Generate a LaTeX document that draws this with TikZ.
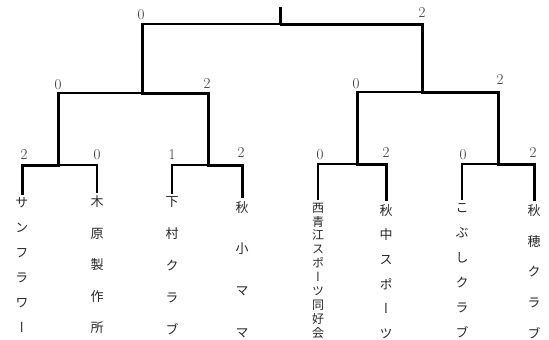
\documentclass[tikz,border=0pt]{standalone}
\usepackage{fontspec}
\newfontfamily\cjkv[RawFeature={+vert}]{Noto Sans CJK JP}
\begin{document}
\begin{tikzpicture}[x=1pt,y=-1pt,
  win/.style={line width=3pt, line join=miter, shorten <=3pt},
  lose/.style={line width=1.4pt, line join=miter, shorten <=3pt},
  stemline/.style={line width=3pt},
  team/.style={inner sep=0pt, align=center, text=black!85},
  score/.style={inner sep=0pt, text=black!80, font=\fontsize{15}{17}\selectfont}]
\useasboundingbox[fill=white] (0,0) rectangle (549,340);
% teams
\node[team, font=\cjkv\fontsize{13}{25}\selectfont] (t1) at (22,265.5) {サ\\ン\\フ\\ラ\\ワ\\ー};
\node[team, font=\cjkv\fontsize{13}{31.5}\selectfont] (t2) at (97,265) {木\\原\\製\\作\\所};
\node[team, font=\cjkv\fontsize{13}{32}\selectfont] (t3) at (172,266) {下\\村\\ク\\ラ\\ブ};
\node[team, font=\cjkv\fontsize{13}{41.7}\selectfont] (t4) at (242,269.5) {秋\\小\\マ\\マ};
\node[team, font=\cjkv\fontsize{12}{13.9}\selectfont] (t5) at (318,270.5) {西\\青\\江\\ス\\ポ\\ー\\ツ\\同\\好\\会};
\node[team, font=\cjkv\fontsize{13}{24.6}\selectfont] (t6) at (386,271.5) {秋\\中\\ス\\ポ\\ー\\ツ};
\node[team, font=\cjkv\fontsize{13}{25}\selectfont] (t7) at (462,270.5) {こ\\ぶ\\し\\ク\\ラ\\ブ};
\node[team, font=\cjkv\fontsize{13}{30.75}\selectfont] (t8) at (534,271.5) {秋\\穂\\ク\\ラ\\ブ};
% junctions
\coordinate (m1) at (58,165);
\coordinate (m2) at (208,165);
\coordinate (m3) at (357,164);
\coordinate (m4) at (498,164);
\coordinate (q1) at (142,93);
\coordinate (q2) at (422,92);
\coordinate (top) at (280,24);
\coordinate (root) at (280,7);
% losers
\draw[lose] (t2.north) |- (m1);
\draw[lose] (t3.north) |- (m2);
\draw[lose] (t5.north) |- (m3);
\draw[lose] (t7.north) |- (m4);
\draw[lose, shorten <=0pt] (m1) |- (q1);
\draw[lose, shorten <=0pt] (m3) |- (q2);
\draw[lose, shorten <=0pt] (q1) |- (top);
% winners
\draw[win] (t1.north) |- (m1) -- (m1 |- q1);
\draw[win] (t4.north) |- (m2) |- (q1) -- (q1 |- top);
\draw[win] (t6.north) |- (m3) -- (m3 |- q2);
\draw[win] (t8.north) |- (m4) |- (q2) |- (top);
\draw[stemline] (top) -- (root);
% scores
\node[score] (s1) at (24,155) {2};
\node[score] (s2) at (97,155) {0};
\node[score] (s3) at (172,155) {1};
\node[score] (s4) at (241,153) {2};
\node[score] (s5) at (320,155) {0};
\node[score] (s6) at (386,153) {2};
\node[score] (s7) at (463,155) {0};
\node[score] (s8) at (533,153) {2};
\node[score] (s9) at (58,85) {0};
\node[score] (s10) at (207,84) {2};
\node[score] (s11) at (356,84) {0};
\node[score] (s12) at (500,80) {2};
\node[score] (s13) at (141,15) {0};
\node[score] (s14) at (422,13) {2};
\end{tikzpicture}
\end{document}
